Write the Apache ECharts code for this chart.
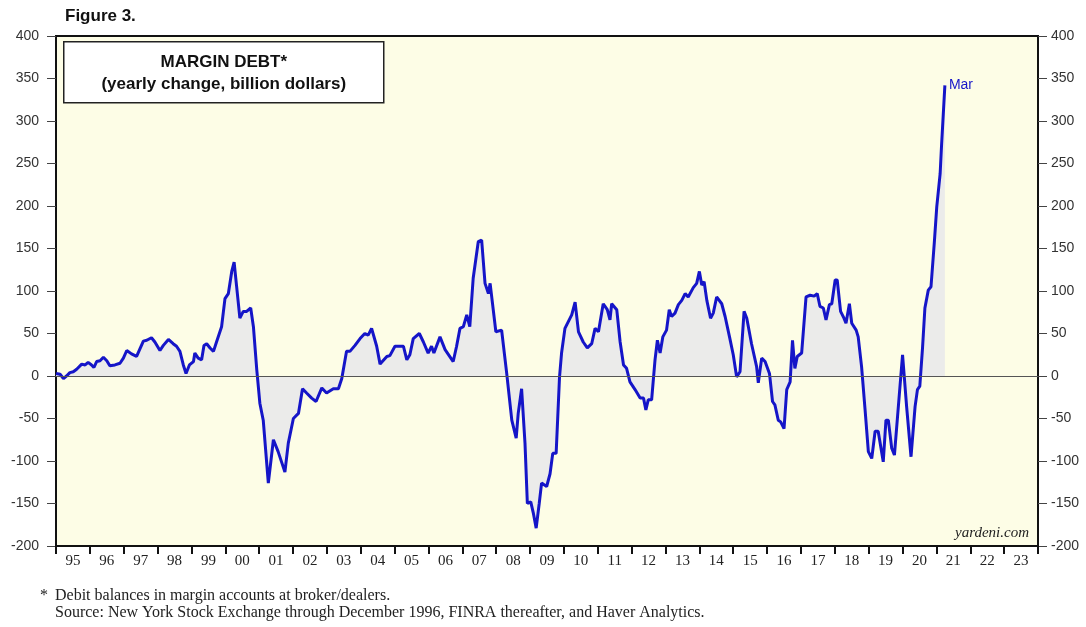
<!DOCTYPE html>
<html>
<head>
<meta charset="utf-8">
<script src="https://cdn.jsdelivr.net/npm/echarts@6/dist/echarts.min.js"></script>
<style>
  html, body { margin: 0; padding: 0; background: #ffffff; }
  #main { width: 1086px; height: 627px; }
</style>
</head>
<body>
<div id="main"></div>
<script>
// year labels under the chart
const yearLabels = ['95', '96', '97', '98', '99', '00', '01', '02', '03', '04',
  '05', '06', '07', '08', '09', '10', '11', '12', '13', '14',
  '15', '16', '17', '18', '19', '20', '21', '22', '23'];

// left / right scale
const yMin = -200;
const yMax = 400;
const yStep = 50;

// margin debt, yearly change (billion $)
const dates = [
  1995.00, 1995.12, 1995.22, 1995.31, 1995.41, 1995.51, 1995.61, 1995.76, 1995.86, 1995.95,
  1996.05, 1996.12, 1996.20, 1996.30, 1996.40, 1996.50, 1996.59, 1996.74, 1996.89, 1996.99,
  1997.09, 1997.23, 1997.38, 1997.58, 1997.68, 1997.82, 1997.92,
  1998.07, 1998.17, 1998.32, 1998.46, 1998.56, 1998.66, 1998.76, 1998.84, 1998.94,
  1999.06, 1999.10, 1999.20, 1999.30, 1999.37, 1999.45, 1999.55, 1999.65, 1999.74, 1999.89, 1999.99,
  2000.09, 2000.19, 2000.26, 2000.33, 2000.43, 2000.53, 2000.63, 2000.75, 2000.83, 2000.93,
  2001.02, 2001.12, 2001.27, 2001.42, 2001.56, 2001.66, 2001.76, 2001.86,
  2002.01, 2002.16, 2002.28, 2002.40, 2002.55, 2002.68, 2002.85, 2002.99,
  2003.19, 2003.34, 2003.44, 2003.58, 2003.68, 2003.83, 2003.98,
  2004.12, 2004.22, 2004.32, 2004.47, 2004.57, 2004.77, 2004.86,
  2005.01, 2005.16, 2005.26, 2005.36, 2005.45, 2005.55, 2005.73, 2005.85, 2005.99,
  2006.09, 2006.16, 2006.34, 2006.49, 2006.73, 2006.83, 2006.93,
  2007.03, 2007.13, 2007.22, 2007.32, 2007.47, 2007.57, 2007.67, 2007.77, 2007.82, 2007.99,
  2008.16, 2008.31, 2008.46, 2008.59, 2008.65, 2008.75, 2008.85, 2008.92,
  2009.02, 2009.10, 2009.18, 2009.27, 2009.34, 2009.49, 2009.59, 2009.67, 2009.77, 2009.87, 2009.93,
  2010.03, 2010.13, 2010.23, 2010.33, 2010.43, 2010.57, 2010.69, 2010.82, 2010.92,
  2011.02, 2011.16, 2011.28, 2011.36, 2011.41, 2011.56, 2011.66, 2011.76, 2011.85, 2011.95,
  2012.10, 2012.25, 2012.35, 2012.42, 2012.49, 2012.59, 2012.69, 2012.76, 2012.84, 2012.92,
  2013.03, 2013.11, 2013.18, 2013.28, 2013.38, 2013.48, 2013.58, 2013.67, 2013.82, 2013.92,
  2014.00, 2014.07, 2014.14, 2014.22, 2014.33, 2014.41, 2014.51, 2014.66, 2014.76, 2014.89,
  2015.00, 2015.10, 2015.20, 2015.32, 2015.40, 2015.54, 2015.69, 2015.74, 2015.84, 2015.94,
  2016.07, 2016.16, 2016.23, 2016.33, 2016.40, 2016.50, 2016.58, 2016.68, 2016.75, 2016.82, 2016.89,
  2017.02, 2017.15, 2017.27, 2017.39, 2017.48, 2017.56, 2017.66, 2017.74, 2017.84, 2017.91,
  2018.01, 2018.07, 2018.17, 2018.27, 2018.33, 2018.43, 2018.50, 2018.63, 2018.69, 2018.79, 2018.89, 2018.99,
  2019.09, 2019.19, 2019.28, 2019.33, 2019.43, 2019.51, 2019.58, 2019.68, 2019.76, 2019.88,
  2020.00, 2020.12, 2020.25, 2020.37, 2020.44, 2020.51, 2020.59, 2020.66, 2020.76, 2020.84, 2020.94,
  2021.01, 2021.11, 2021.15, 2021.25
];

const values = [
  3, 2, -3, 0, 4, 5, 8, 14, 13, 16,
  13, 10, 17, 18, 22, 18, 12, 13, 15, 21,
  30, 26, 23, 41, 42, 45, 40,
  30, 36, 43, 38, 35, 29, 13, 3, 13,
  17, 27, 21, 19, 36, 38, 33, 29, 40, 58, 91,
  97, 123, 134, 107, 68, 76, 76, 80, 58, 7,
  -32, -52, -126, -75, -89, -101, -113, -79,
  -50, -44, -15, -20, -26, -30, -14, -20,
  -15, -15, -3, 29, 29, 36, 44,
  50, 48, 56, 35, 14, 23, 24,
  35, 35, 35, 19, 25, 44, 50, 40, 27,
  35, 27, 46, 31, 17, 35, 56,
  58, 72, 58, 115, 158, 160, 109, 97, 109, 52,
  54, 3, -52, -73, -44, -15, -79, -150,
  -148, -162, -179, -150, -126, -130, -115, -91, -91, -1, 27,
  56, 64, 72, 87, 52, 40, 33, 38, 56,
  52, 85, 78, 66, 85, 78, 40, 13, 9, -7,
  -16, -26, -26, -40, -28, -28, 19, 42, 27, 46,
  54, 78, 70, 74, 84, 89, 97, 93, 104, 109,
  123, 107, 111, 89, 68, 74, 93, 85, 70, 46,
  25, -1, 5, 76, 68, 38, 11, -8, 21, 17,
  3, -30, -34, -52, -54, -62, -16, -7, 42, 9, 23,
  27, 93, 95, 94, 97, 82, 80, 66, 84, 85,
  113, 113, 76, 68, 62, 85, 62, 54, 46, 11, -38, -89,
  -97, -65, -65, -64, -101, -52, -52, -85, -93, -34,
  25, -36, -95, -36, -16, -12, 33, 80, 101, 105, 158,
  199, 238, 270, 342
];

const lastLabel = 'Mar';

const sans = 'Arial, "Liberation Sans", sans-serif';
const serif = '"Times New Roman", "Liberation Serif", serif';
const blue = '#1515c8';

var myChart = echarts.init(document.getElementById('main'));

var yAxisBase = {
  type: 'value',
  min: yMin,
  max: yMax,
  interval: yStep,
  splitLine: { show: false },
  axisLine: { show: true, onZero: false, lineStyle: { color: '#111', width: 2 } },
  axisTick: { show: true, inside: false, length: 9, lineStyle: { color: '#444', width: 1 } },
  axisLabel: { fontFamily: sans, fontSize: 14, color: '#333' }
};

var option = {
  animation: false,
  backgroundColor: '#ffffff',
  grid: {
    left: 56,
    right: 48,
    top: 36,
    bottom: 81,
    show: true,
    backgroundColor: '#fdfde6',
    borderColor: '#111',
    borderWidth: 2
  },
  xAxis: [
    {
      type: 'category',
      data: yearLabels,
      boundaryGap: true,
      position: 'bottom',
      axisLine: { show: true, onZero: false, lineStyle: { color: '#111', width: 2 } },
      axisTick: { show: true, inside: false, length: 8, interval: 0, alignWithLabel: false, lineStyle: { color: '#111', width: 2 } },
      axisLabel: { interval: 0, fontFamily: serif, fontSize: 15, color: '#222', margin: 8 },
      splitLine: { show: false }
    },
    {
      type: 'value',
      min: 1995,
      max: 2024,
      show: false
    }
  ],
  yAxis: [
    Object.assign({}, yAxisBase, { position: 'left', axisLabel: Object.assign({}, yAxisBase.axisLabel, { margin: 17 }) }),
    Object.assign({}, yAxisBase, { position: 'right', axisLabel: Object.assign({}, yAxisBase.axisLabel, { margin: 13 }) })
  ],
  series: [
    {
      name: 'Margin debt',
      type: 'line',
      xAxisIndex: 1,
      yAxisIndex: 0,
      data: dates.map((d, i) => [d, values[i]]),
      showSymbol: false,
      symbol: 'none',
      lineStyle: { color: blue, width: 3 },
      areaStyle: { color: '#ebebea', opacity: 1, origin: 0 },
      endLabel: {
        show: true,
        formatter: lastLabel,
        color: blue,
        fontFamily: sans,
        fontSize: 14,
        distance: 4
      },
      markLine: {
        silent: true,
        symbol: 'none',
        label: { show: false },
        lineStyle: { color: '#555', width: 1, type: 'solid' },
        data: [{ yAxis: 0 }]
      },
      z: 3
    }
  ],
  graphic: [
    {
      type: 'text',
      left: 65,
      top: 8,
      style: { text: 'Figure 3.', font: 'bold 17px ' + sans, fill: '#111' }
    },
    {
      type: 'group',
      left: 63,
      top: 41,
      z: 10,
      children: [
        {
          type: 'rect',
          shape: { x: 0, y: 0, width: 320, height: 61 },
          style: { fill: '#ffffff', stroke: '#222', lineWidth: 1.5 }
        },
        {
          type: 'text',
          x: 160,
          y: 21,
          style: { text: 'MARGIN DEBT*', font: 'bold 17px ' + sans, fill: '#111', align: 'center', verticalAlign: 'middle' }
        },
        {
          type: 'text',
          x: 160,
          y: 43,
          style: { text: '(yearly change, billion dollars)', font: 'bold 17px ' + sans, fill: '#111', align: 'center', verticalAlign: 'middle' }
        }
      ]
    },
    {
      type: 'text',
      right: 57,
      top: 526,
      z: 10,
      style: { text: 'yardeni.com', font: 'italic 15px ' + serif, fill: '#222' }
    },
    {
      type: 'text',
      left: 40,
      top: 588,
      style: { text: '*', font: '16px ' + serif, fill: '#222' }
    },
    {
      type: 'text',
      left: 55,
      top: 588,
      style: { text: 'Debit balances in margin accounts at broker/dealers.', font: '16px ' + serif, fill: '#222' }
    },
    {
      type: 'text',
      left: 55,
      top: 605,
      style: { text: 'Source: New York Stock Exchange through December 1996, FINRA thereafter, and Haver Analytics.', font: '16px ' + serif, fill: '#222' }
    }
  ]
};

myChart.setOption(option);
</script>
</body>
</html>
